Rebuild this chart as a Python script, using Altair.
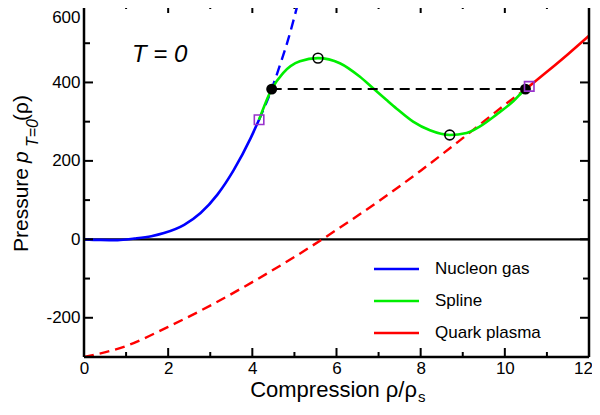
import altair as alt
import pandas as pd

# ---- data ----
nucleon_x = [0.0, 0.4, 0.8, 1.2, 1.6, 1.9, 2.38, 2.77, 3.17, 3.56, 3.96, 4.16]
nucleon_y = [0, -1.5, -2, 2, 8, 16, 37, 67, 114, 177, 258, 305]
nucleon_ext_x = [4.16, 4.46, 4.65, 4.85, 5.08]
nucleon_ext_y = [305, 383, 442, 509, 600]

spline_x = [4.16, 4.46, 4.73, 5.13, 5.56, 6.08, 6.55, 6.87, 7.19, 7.43, 7.82, 8.22, 8.69, 9.09, 9.41, 9.80, 10.20, 10.49, 10.58]
spline_y = [305, 383, 424, 454, 462, 449, 415, 385, 355, 333, 300, 278, 266, 271, 288, 318, 352, 383, 390]

quark_ext_x = [0, 1, 2, 3, 4, 5, 6, 7, 8, 9, 10, 10.58]
quark_ext_y = [-300, -272, -223, -169, -109, -45, 24, 97, 175, 258, 343, 390]
quark_x = [10.58, 11.0, 11.5, 12.0]
quark_y = [390, 427, 472, 519]

coexist_x = [4.46, 10.49]
coexist_y = [383, 383]
extrema_x = [5.56, 8.69]
extrema_y = [462, 266]
match_x = [4.16, 10.58]
match_y = [305, 390]

x_major = [0, 2, 4, 6, 8, 10, 12]
x_minor = [1, 3, 5, 7, 9, 11]
y_major = [-200, 0, 200, 400, 600]
y_minor = [-100, 100, 300, 500]

series_names = ["Nucleon gas", "Spline", "Quark plasma"]
series_colors = ["#0000ff", "#00ee00", "#ff0000"]

W, H = 505, 353
FONT = "Liberation Sans"

xs = alt.Scale(domain=[0, 12], nice=False, zero=False)
ys = alt.Scale(domain=[-300, 600], nice=False, zero=False)

LABEL_EXPR = "datum.value < 0 ? '-' + abs(datum.value) : '' + datum.value"

x_axis = alt.Axis(values=x_major, ticks=False, domain=False, grid=False,
                  labelFontSize=17, labelFont=FONT, labelColor="black",
                  labelPadding=3, labelFlush=False, labelExpr=LABEL_EXPR, title=None,
                  labelOffset={"condition": {"test": "datum.value == 12", "value": -6}, "value": 0})
y_axis = alt.Axis(values=y_major, ticks=False, domain=False, grid=False,
                  labelFontSize=17, labelFont=FONT, labelColor="black",
                  labelPadding=4, labelFlush=False, labelExpr=LABEL_EXPR, title=None,
                  labelOffset={"condition": {"test": "datum.value == 600", "value": 13}, "value": 0})

X = alt.X("x:Q", scale=xs, axis=x_axis)
Y = alt.Y("y:Q", scale=ys, axis=y_axis)


def df(x, y):
    return pd.DataFrame({"x": x, "y": y})


zero = alt.Chart(df([0], [0])).mark_rule(color="black", strokeWidth=2.2).encode(y=Y)


def line(x, y, color, dash=None, width=2.6):
    kw = dict(color=color, strokeWidth=width, interpolate="monotone", clip=True)
    if dash:
        kw["strokeDash"] = dash
    return alt.Chart(df(x, y)).mark_line(**kw).encode(x=X, y=Y, order="x:Q")


red_dash = line(quark_ext_x, quark_ext_y, series_colors[2], [10, 6], 2.4)
blue_dash = line(nucleon_ext_x, nucleon_ext_y, series_colors[0], [10, 6], 2.4)
blue = line(nucleon_x, nucleon_y, series_colors[0])
green = line(spline_x, spline_y, series_colors[1])
red = line(quark_x, quark_y, series_colors[2])
black_dash = alt.Chart(df(coexist_x, coexist_y)).mark_line(color="black", strokeWidth=2,
                                                           strokeDash=[10, 6]).encode(x=X, y=Y)

dots = alt.Chart(df(coexist_x, coexist_y)).mark_point(shape="circle", filled=True, color="black",
                                                      size=120, opacity=1).encode(x=X, y=Y)
opens = alt.Chart(df(extrema_x, extrema_y)).mark_point(shape="circle", filled=False, color="black",
                                                       size=95, strokeWidth=1.6, opacity=1).encode(x=X, y=Y)
squares = alt.Chart(df(match_x, match_y)).mark_point(shape="square", filled=False, color="#9933cc",
                                                     size=90, strokeWidth=1.6, opacity=1).encode(x=X, y=Y)


# inward ticks on all four sides
def xticks(vals, length):
    d = df(vals, [0] * len(vals))
    bot = alt.Chart(d).mark_rule(color="black", strokeWidth=2).encode(
        x=X, y=alt.value(H), y2=alt.value(H - length))
    top = alt.Chart(d).mark_rule(color="black", strokeWidth=2).encode(
        x=X, y=alt.value(0), y2=alt.value(length))
    return [bot, top]


def yticks(vals, length):
    d = df([0] * len(vals), vals)
    left = alt.Chart(d).mark_rule(color="black", strokeWidth=2).encode(
        y=Y, x=alt.value(0), x2=alt.value(length))
    right = alt.Chart(d).mark_rule(color="black", strokeWidth=2).encode(
        y=Y, x=alt.value(W), x2=alt.value(W - length))
    return [left, right]


ticks = xticks(x_major, 9) + xticks(x_minor, 5) + yticks(y_major, 9) + yticks(y_minor, 6)

# frame
one = df([0], [0])
frame = [
    alt.Chart(one).mark_rule(color="black", strokeWidth=2.5).encode(
        x=alt.value(0), x2=alt.value(W), y=alt.value(0)),
    alt.Chart(one).mark_rule(color="black", strokeWidth=2.5).encode(
        x=alt.value(0), x2=alt.value(W), y=alt.value(H)),
    alt.Chart(one).mark_rule(color="black", strokeWidth=2.5).encode(
        y=alt.value(0), y2=alt.value(H), x=alt.value(0)),
    alt.Chart(one).mark_rule(color="black", strokeWidth=2.5).encode(
        y=alt.value(0), y2=alt.value(H), x=alt.value(W)),
]

# legend
legend_layers = []
for i, (name, col) in enumerate(zip(series_names, series_colors)):
    yy = 265 + 32 * i
    legend_layers.append(alt.Chart(one).mark_rule(color=col, strokeWidth=2.6).encode(
        x=alt.value(290), x2=alt.value(335), y=alt.value(yy)))
    legend_layers.append(alt.Chart(one).mark_text(
        align="left", baseline="middle", fontSize=17, font=FONT, color="black").encode(
        x=alt.value(351), y=alt.value(yy), text=alt.value(name)))


def txt(s, x, y, size, align="left", style="normal", angle=0, baseline="alphabetic"):
    kw = dict(align=align, baseline=baseline, fontSize=size, font=FONT, color="black", fontStyle=style)
    if angle:
        kw["angle"] = angle
    return alt.Chart(one).mark_text(**kw).encode(
        x=alt.value(x), y=alt.value(y), text=alt.value(s))


labels = [
    txt("T = 0", 48, 58, 24, style="italic"),
    txt("Compression ρ/ρ", 333, 393, 22, align="right"),
    txt("s", 334, 398, 15),
    txt("Pressure", -56, 164, 21, align="right", angle=270),
    txt("p", -56, 159, 21, style="italic", angle=270),
    txt("T=0", -46, 143, 16, style="italic", angle=270),
    txt("(ρ)", -56, 117, 21, angle=270),
]

chart = alt.layer(
    zero, red_dash, blue_dash, blue, green, red, black_dash, dots, opens, squares,
    *ticks, *frame, *legend_layers, *labels
).properties(
    width=W, height=H,
    autosize=alt.AutoSizeParams(type="none"),
    padding={"left": 76, "top": -4, "right": 3, "bottom": 48},
).configure_view(strokeOpacity=0).configure(background="white")

chart.save("out.html", embed_options={"renderer": "svg", "actions": False})
